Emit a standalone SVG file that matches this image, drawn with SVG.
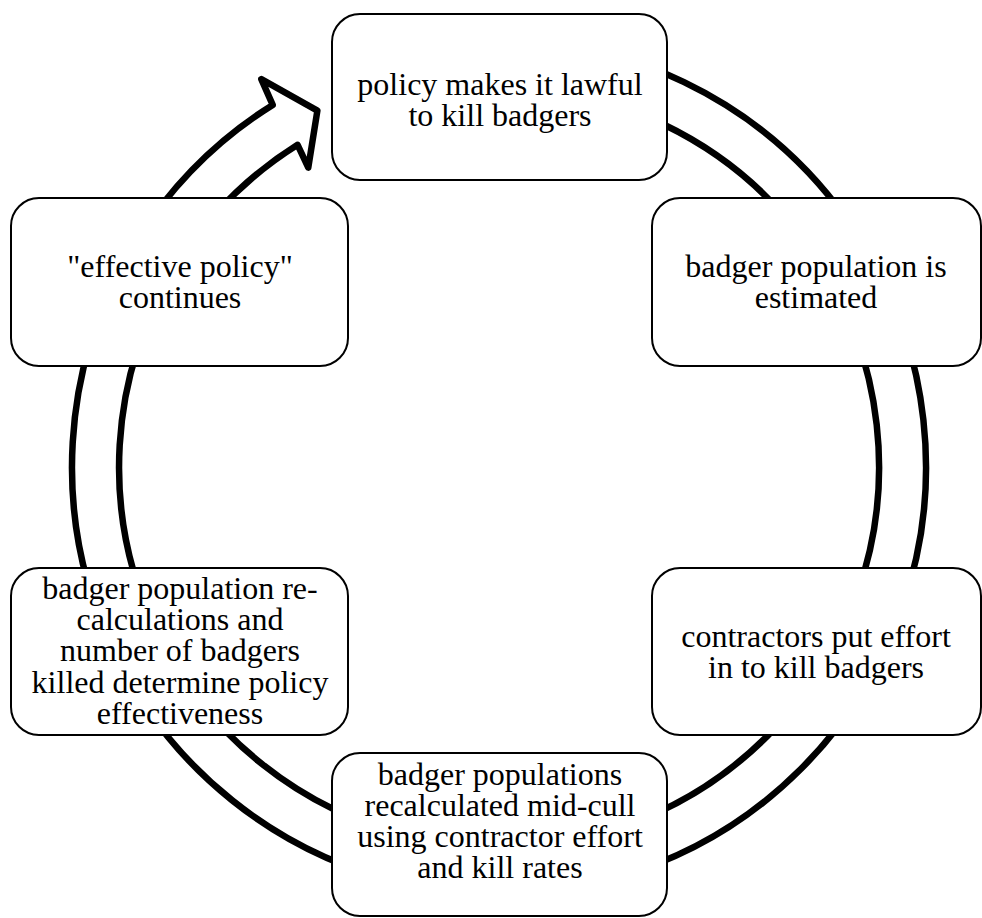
<svg xmlns="http://www.w3.org/2000/svg" width="982" height="918" viewBox="0 0 982 918">
<style>
.box{fill:#fff;stroke:#000;stroke-width:2}
.ring{fill:#fff;stroke:#000;stroke-width:6.5;stroke-linejoin:round}
text{font-family:'Liberation Serif','Times New Roman',serif;font-size:32px;fill:#000;text-anchor:middle}
</style>
<rect width="982" height="918" fill="#fff"/>
<g id="connectors">
<path class="ring" d="M499,40 A427,427 0 1 1 272.7,104.9 L261.3,79.1 L317.4,110.6 L308.3,167.6 L297.6,144.8 A380,380 0 1 0 499,87 Z"/>
</g>
<g id="n1"><rect class="box" x="332" y="14" width="335" height="166" rx="28"/>
<text x="500" y="95">policy makes it lawful</text><text x="500" y="126">to kill badgers</text></g>
<g id="n2"><rect class="box" x="652" y="198" width="329" height="168" rx="28"/>
<text x="816" y="277">badger population is</text><text x="816" y="308">estimated</text></g>
<g id="n3"><rect class="box" x="652" y="568" width="329" height="167" rx="28"/>
<text x="816" y="647">contractors put effort</text><text x="816" y="678">in to kill badgers</text></g>
<g id="n4"><rect class="box" x="332" y="753" width="335" height="163" rx="28"/>
<text x="500" y="785">badger populations</text><text x="500" y="816">recalculated mid-cull</text><text x="500" y="847">using contractor effort</text><text x="500" y="878">and kill rates</text></g>
<g id="n5"><rect class="box" x="11" y="568" width="337" height="167" rx="28"/>
<text x="180" y="599">badger population re-</text><text x="180" y="630">calculations and</text><text x="180" y="661">number of badgers</text><text x="180" y="693">killed determine policy</text><text x="180" y="724">effectiveness</text></g>
<g id="n6"><rect class="box" x="11" y="198" width="337" height="168" rx="28"/>
<text x="180" y="277">"effective policy"</text><text x="180" y="308">continues</text></g>
</svg>
